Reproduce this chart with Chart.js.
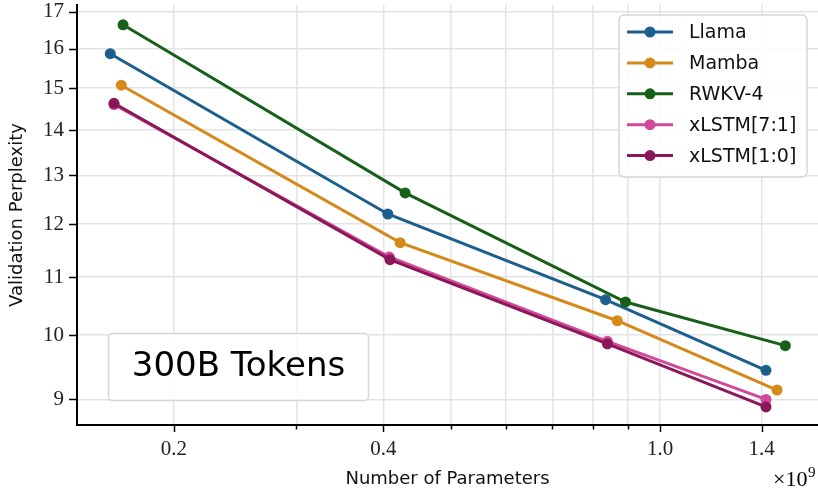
<!DOCTYPE html>
<html>
<head>
<meta charset="utf-8">
<script src="https://cdn.jsdelivr.net/npm/chart.js@4"></script>
<style>
  html, body { margin: 0; padding: 0; background: #fff; }
  #wrap { width: 818px; height: 491px; position: relative; }
</style>
</head>
<body>
<div id="wrap"><canvas id="chart" width="818" height="491"></canvas></div>
<script>
// Data (parameters in units of 1e9)
const seriesNames = ['Llama', 'Mamba', 'RWKV-4', 'xLSTM[7:1]', 'xLSTM[1:0]'];
const seriesColors = ['#1b5f8d', '#d6891b', '#17601a', '#d4489a', '#8a1858'];

const paramsLlama = [0.162, 0.406, 0.835, 1.42];
const pplLlama = [15.87, 12.20, 10.60, 9.44];
const paramsMamba = [0.168, 0.423, 0.868, 1.473];
const pplMamba = [15.07, 11.64, 10.24, 9.14];
const paramsRwkv = [0.169, 0.430, 0.892, 1.514];
const pplRwkv = [16.64, 12.63, 10.56, 9.83];
const paramsXlstm71 = [0.164, 0.408, 0.840, 1.42];
const pplXlstm71 = [14.60, 11.37, 9.90, 9.00];
const paramsXlstm10 = [0.164, 0.409, 0.840, 1.42];
const pplXlstm10 = [14.63, 11.32, 9.86, 8.89];

const xTickValues = [0.2, 0.3, 0.4, 0.5, 0.6, 0.7, 0.8, 0.9, 1.0, 1.4];
const xTickLabels = { 0.2: '0.2', 0.4: '0.4', 1: '1.0', 1.4: '1.4' };
const yTickValues = [9, 10, 11, 12, 13, 14, 15, 16, 17];

const sansFont = '"DejaVu Sans", sans-serif';
const serifFont = '"Liberation Serif", "DejaVu Serif", serif';

function toPoints(xs, ys) {
    return xs.map((x, i) => ({ x: x, y: ys[i] }));
}

const allSeries = [
    toPoints(paramsLlama, pplLlama),
    toPoints(paramsMamba, pplMamba),
    toPoints(paramsRwkv, pplRwkv),
    toPoints(paramsXlstm71, pplXlstm71),
    toPoints(paramsXlstm10, pplXlstm10)
];

const datasets = allSeries.map((pts, i) => ({
    label: seriesNames[i],
    data: pts,
    borderColor: seriesColors[i],
    backgroundColor: seriesColors[i],
    borderWidth: 3,
    pointRadius: 5.5,
    pointHoverRadius: 5.5,
    pointBorderWidth: 0,
    showLine: true,
    tension: 0,
    clip: false,
    order: allSeries.length - i
}));

// tick marks, legend box, text box and the x10^9 offset label
const decorPlugin = {
    id: 'decor',
    afterDraw(chart) {
        const ctx = chart.ctx;
        const xs = chart.scales.x;
        const ys = chart.scales.y;
        const area = chart.chartArea;
        ctx.save();
        ctx.strokeStyle = '#000';
        ctx.lineWidth = 1.5;
        // x tick marks
        xTickValues.forEach(v => {
            const px = Math.round(xs.getPixelForValue(v)) + 0.5;
            const len = xTickLabels[v] ? 7 : 4.5;
            ctx.beginPath();
            ctx.moveTo(px, area.bottom);
            ctx.lineTo(px, area.bottom + len);
            ctx.stroke();
        });
        // y tick marks
        yTickValues.forEach(v => {
            const py = Math.round(ys.getPixelForValue(v)) + 0.5;
            ctx.beginPath();
            ctx.moveTo(area.left - 8, py);
            ctx.lineTo(area.left, py);
            ctx.stroke();
        });

        // legend
        const lx = 619, ly = 15, lw = 188, lh = 162;
        ctx.fillStyle = 'rgba(255,255,255,0.85)';
        ctx.strokeStyle = '#d6d6d6';
        ctx.lineWidth = 1.5;
        ctx.beginPath();
        ctx.roundRect(lx, ly, lw, lh, 5);
        ctx.fill();
        ctx.stroke();
        chart.data.datasets.forEach((ds, i) => {
            const cy = 32 + i * 30.9;
            ctx.strokeStyle = ds.borderColor;
            ctx.lineWidth = 3;
            ctx.beginPath();
            ctx.moveTo(627, cy);
            ctx.lineTo(673, cy);
            ctx.stroke();
            ctx.fillStyle = ds.borderColor;
            ctx.beginPath();
            ctx.arc(650, cy, 5.5, 0, Math.PI * 2);
            ctx.fill();
            ctx.fillStyle = '#111';
            ctx.font = '19px ' + sansFont;
            ctx.textAlign = 'left';
            ctx.textBaseline = 'middle';
            ctx.fillText(ds.label, 689, cy + 1);
        });

        // "300B Tokens" box
        ctx.fillStyle = 'rgba(255,255,255,0.85)';
        ctx.strokeStyle = '#d6d6d6';
        ctx.lineWidth = 1.5;
        ctx.beginPath();
        ctx.roundRect(108.5, 333.5, 260, 67, 4);
        ctx.fill();
        ctx.stroke();
        ctx.fillStyle = '#000';
        ctx.font = '34px ' + sansFont;
        ctx.textAlign = 'center';
        ctx.textBaseline = 'middle';
        ctx.fillText('300B Tokens', 238.5, 367);

        // offset label
        ctx.font = '22px ' + serifFont;
        ctx.textAlign = 'left';
        ctx.textBaseline = 'alphabetic';
        ctx.fillText('\u00d710', 773, 486);
        ctx.font = '15px ' + serifFont;
        ctx.fillText('9', 808, 477);
        ctx.restore();
    }
};

const config = {
    type: 'scatter',
    data: { datasets: datasets },
    options: {
        responsive: false,
        animation: false,
        events: [],
        layout: { autoPadding: false, padding: { top: 5, right: 0, left: 0, bottom: 0 } },
        plugins: {
            legend: { display: false },
            tooltip: { enabled: false }
        },
        scales: {
            x: {
                type: 'logarithmic',
                min: 0.1451,
                max: 1.687,
                afterBuildTicks: scale => {
                    scale.ticks = xTickValues.map(v => ({ value: v }));
                },
                afterFit: scale => {
                    scale.height = 66;
                    scale.paddingLeft = 0;
                    scale.paddingRight = 0;
                },
                ticks: {
                    autoSkip: false,
                    maxRotation: 0,
                    padding: 12,
                    color: '#222',
                    font: { family: serifFont, size: 21 },
                    callback: value => xTickLabels[value] || ''
                },
                grid: {
                    color: '#e3e3e3',
                    lineWidth: 1.5,
                    drawTicks: false
                },
                border: { color: '#000', width: 2 },
                title: {
                    display: true,
                    text: 'Number of Parameters',
                    color: '#111',
                    font: { family: sansFont, size: 18 },
                    padding: { top: 0, bottom: 1 }
                }
            },
            y: {
                type: 'logarithmic',
                min: 8.63,
                max: 17.19,
                afterBuildTicks: scale => {
                    scale.ticks = yTickValues.map(v => ({ value: v }));
                },
                afterFit: scale => {
                    scale.width = 77;
                    scale.paddingTop = 0;
                    scale.paddingBottom = 0;
                },
                ticks: {
                    autoSkip: false,
                    padding: 13,
                    color: '#222',
                    font: { family: serifFont, size: 21 },
                    callback: value => String(value)
                },
                grid: {
                    color: '#e3e3e3',
                    lineWidth: 1.5,
                    drawTicks: false
                },
                border: { color: '#000', width: 2 },
                title: {
                    display: true,
                    text: 'Validation Perplexity',
                    color: '#111',
                    font: { family: sansFont, size: 18 },
                    padding: { top: 7, bottom: 0 }
                }
            }
        }
    },
    plugins: [decorPlugin]
};

new Chart(document.getElementById('chart'), config);
</script>
</body>
</html>
